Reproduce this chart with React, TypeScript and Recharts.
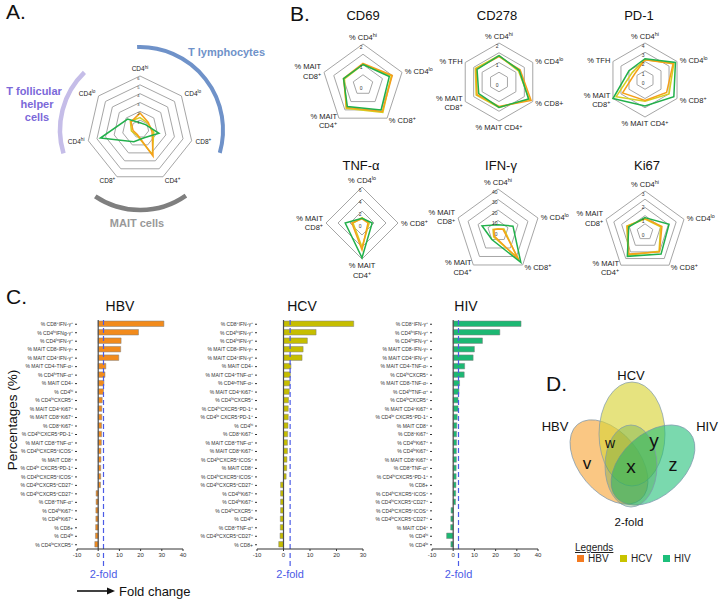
import React from 'react';
import {
  RadarChart,
  Radar,
  PolarGrid,
  PolarAngleAxis,
  PolarRadiusAxis,
  BarChart,
  Bar,
  XAxis,
  YAxis,
  ReferenceLine,
} from 'recharts';

const FONT = '"Liberation Sans", Arial, sans-serif';

const HBV_LINE = '#f5a01a';
const HCV_LINE = '#d6cf1f';
const HIV_LINE = '#22b04b';
const FOLD_BLUE = '#4b5be6';

// ---- panel A ----
const aAxes = ['CD4{hi}', 'CD4{lo}', 'CD8{+}', 'CD4{+}', 'CD8{+}', 'CD4{hi}', 'CD4{lo}'];
const aHBV = [1.8, 1.2, 1.4, 3.4, 0.7, 0.8, 1.3];
const aHCV = [1.3, 1.1, 1.6, 3.2, 0.8, 1.0, 1.4];
const aHIV = [0.7, 0.8, 2.2, 1.1, 1.6, 4.6, 1.8];

// ---- panel B ----
const cd69Axes = ['% CD4{hi}', '% CD4{lo}', '% CD8{+}', '% MAIT\nCD4{+}', '% MAIT\nCD8{+}'];
const cd69HBV = [1.05, 1.5, 1.6, 1.35, 1.0];
const cd69HCV = [1.0, 1.45, 1.65, 1.4, 0.95];
const cd69HIV = [1.0, 1.35, 1.5, 1.3, 1.0];

const cd278Axes = ['% CD4{hi}', '% CD4{lo}', '% CD8+', '% MAIT CD4{+}', '% MAIT\nCD8{+}', '% TFH'];
const cd278HBV = [1.3, 1.25, 1.9, 1.25, 1.3, 1.35];
const cd278HCV = [1.35, 1.15, 1.8, 1.3, 1.35, 1.4];
const cd278HIV = [1.35, 1.2, 1.75, 1.3, 1.2, 1.3];

const pd1Axes = ['% CD4{hi}', '% CD4{lo}', '% CD8{+}', '% MAIT CD4{+}', '% MAIT\nCD8{+}', '% TFH'];
const pd1HBV = [2.2, 3.5, 2.7, 2.2, 2.8, 1.3];
const pd1HCV = [2.2, 3.6, 3.0, 2.3, 3.6, 1.6];
const pd1HIV = [2.3, 3.8, 3.6, 2.8, 4.0, 2.0];

const tnfAxes = ['% CD4{lo}', '% CD8{+}', '% MAIT\nCD4{+}', '% MAIT\nCD8{+}'];
const tnfHBV = [0.7, 1.0, 4.5, 1.7];
const tnfHCV = [0.9, 1.2, 4.0, 1.5];
const tnfHIV = [0.8, 1.7, 5.8, 2.8];

const ifnAxes = ['% CD4{hi}', '% CD4{lo}', '% CD8{+}', '% MAIT\nCD4{+}', '% MAIT\nCD8{+}'];
const ifnHBV = [2, 5, 34, 6, 4];
const ifnHCV = [2, 6, 31, 7, 5];
const ifnHIV = [6, 15, 37, 10, 16];

const ki67Axes = ['% CD4{hi}', '% CD4{lo}', '% CD8{+}', '% MAIT\nCD4{+}', '% MAIT\nCD8{+}'];
const ki67HBV = [1.0, 1.3, 1.8, 2.0, 1.35];
const ki67HCV = [0.95, 1.2, 1.75, 2.1, 1.4];
const ki67HIV = [1.05, 1.85, 2.0, 2.2, 1.25];

// ---- panel C ----
const hbvNames = [
  '% CD8{+}IFN-γ{+}', '% CD4{hi}IFNg-γ{+}', '% CD4{lo}IFN-γ{+}', '% MAIT CD8{+}IFN-γ{+}',
  '% MAIT CD4{+}IFN-γ{+}', '% MAIT CD4{+}TNF-α{+}', '% CD4{hi}TNF-α{+}', '% MAIT CD4{+}',
  '% CD4{hi}', '% CD4{hi}CXCR5{+}', '% MAIT CD4{+}Ki67{+}', '% MAIT CD8{+}Ki67{+}',
  '% CD8{+}Ki67{+}', '% CD4{hi}CXCR5{+}PD-1{+}', '% MAIT CD8{+}TNF-α{+}', '% CD4{hi}CXCR5{+}ICOS{+}',
  '% MAIT CD8{+}', '% CD4{lo} CXCR5{+}PD-1{+}', '% CD4{lo}CXCR5{+}ICOS{+}', '% CD4{lo}CXCR5{+}CD27{+}',
  '% CD4{hi}CXCR5{+}CD27{+}', '% CD8{+}TNF-α{+}', '% CD4{hi}Ki67{+}', '% CD4{lo}Ki67{+}',
  '% CD8+', '% CD4{lo}', '% CD4{lo}CXCR5{+}',
];
const hbvValues = [31, 19, 10.8, 10.6, 9.7, 3.6, 3.2, 2.7, 2.5, 1.9, 1.7, 1.7, 1.6, 1.6, 1.5, 1.3, 1.3, 1.2, 1.2, 1.1, -1.0, -1.0, -1.1, -1.1, -1.2, -1.3, -1.6];

const hcvNames = [
  '% CD8{+}IFN-γ{+}', '% CD4{hi}IFN-γ{+}', '% CD4{lo}IFN-γ{+}', '% MAIT CD8{+}IFN-γ{+}',
  '% MAIT CD4{+}IFN-γ{+}', '% MAIT CD4{+}', '% MAIT CD4{+}TNF-α{+}', '% CD4{hi}TNF-α{+}',
  '% MAIT CD4{+}Ki67{+}', '% CD4{hi}CXCR5{+}', '% CD4{hi}CXCR5{+}PD-1{+}', '% CD4{lo} CXCR5{+}PD-1{+}',
  '% CD4{hi}', '% CD8{+}Ki67{+}', '% MAIT CD8{+}TNF-α{+}', '% MAIT CD8{+}Ki67{+}',
  '% CD4{lo}CXCR5{+}ICOS{+}', '% MAIT CD8{+}', '% CD4{hi}CXCR5{+}ICOS{+}', '% CD4{hi}CXCR5{+}CD27{+}',
  '% CD4{hi}Ki67{+}', '% CD4{lo}Ki67{+}', '% CD4{lo}CXCR5{+}', '% CD4{lo}',
  '% CD8{+}TNF-α{+}', '% CD4{lo}CXCR5{+}CD27{+}', '% CD8+',
];
const hcvValues = [26.5, 12.3, 9.0, 7.4, 7.0, 2.8, 2.6, 2.4, 2.2, 1.9, 1.8, 1.8, 1.7, 1.6, 1.5, 1.5, 1.3, 1.2, 1.0, -1.1, -1.1, -1.1, -1.1, -1.2, -1.2, -1.3, -1.8];

const hivNames = [
  '% CD8{+}IFN-γ{+}', '% CD4{hi}IFN-γ{+}', '% CD4{lo}IFN-γ{+}', '% MAIT CD8{+}IFN-γ{+}',
  '% MAIT CD4{+}IFN-γ{+}', '% MAIT CD4{+}TNF-α{+}', '% CD4{hi}CXCR5{+}', '% MAIT CD8{+}TNF-α{+}',
  '% CD4{hi}TNF-α{+}', '% CD4{lo}CXCR5{+}', '% MAIT CD4{+}Ki67{+}', '% CD4{lo} CXCR5{+}PD-1{+}',
  '% MAIT CD8{+}', '% CD8{+}Ki67{+}', '% CD4{hi}Ki67{+}', '% CD4{lo}Ki67{+}',
  '% MAIT CD8{+}Ki67{+}', '% CD8{+}TNF-α{+}', '% CD4{hi}CXCR5{+}PD-1{+}', '% CD8+',
  '% CD4{hi}CXCR5{+}ICOS{+}', '% CD4{hi}CXCR5{+}CD27{+}', '% CD4{lo}CXCR5{+}ICOS{+}', '% CD4{lo}CXCR5{+}CD27{+}',
  '% MAIT CD4{+}', '% CD4{hi}', '% CD4{lo}',
];
const hivValues = [32, 22, 13.8, 10, 9.4, 5.4, 5.2, 3.0, 2.7, 2.3, 2.3, 1.9, 1.7, 1.6, 1.6, 1.5, 1.5, 1.4, 1.4, 1.3, 1.2, 1.1, -1.0, -1.1, -1.2, -3.1, -1.1];

const FOLD_LINE = 2.5;

// ---- panel D ----
const vennSets = [
  { name: 'HBV', cx: 609, cy: 462, rx: 49, ry: 30, rot: 50, fill: '#f7a940', op: 0.65 },
  { name: 'HCV', cx: 632, cy: 434, rx: 33, ry: 52, rot: 0, fill: '#d8d43a', op: 0.65 },
  { name: 'HIV', cx: 653, cy: 465, rx: 49, ry: 31, rot: -42, fill: '#22c078', op: 0.6 },
  { name: '2-fold', cx: 631, cy: 466, rx: 26, ry: 41, rot: 0, fill: '#3f9a3a', op: 0.3 },
];
const vennLetters = [
  { t: 'v', x: 587, y: 469, s: 17 },
  { t: 'w', x: 610, y: 448, s: 14 },
  { t: 'x', x: 631, y: 473, s: 19 },
  { t: 'y', x: 654, y: 447, s: 19 },
  { t: 'z', x: 673, y: 471, s: 18 },
];
const legendItems = [
  { name: 'HBV', color: '#f47b20' },
  { name: 'HCV', color: '#c8c300' },
  { name: 'HIV', color: '#1dbf7b' },
];

// text with {...} pieces as superscripts
function rich(text: string, fs: number) {
  const parts = text.split(/(\{[^}]*\})/).filter((p) => p.length > 0);
  let up = false;
  return parts.map((p, i) => {
    const sup = p.startsWith('{');
    const s = sup ? p.slice(1, -1) : p;
    let dy: number | undefined;
    if (sup && !up) {
      dy = -fs * 0.38;
      up = true;
    } else if (!sup && up) {
      dy = fs * 0.38;
      up = false;
    }
    return (
      <tspan key={i} dy={dy} fontSize={sup ? fs * 0.72 : fs}>
        {s}
      </tspan>
    );
  });
}

interface SpiderProps {
  cx: number;
  cy: number;
  r: number;
  axes: string[];
  hbv: number[];
  hcv: number[];
  hiv: number[];
  max: number;
  tickCount: number;
  rings: number[];
  fs: number;
  gap: number;
  tickFs: number;
  skipZero?: boolean;
}

function Spider({ cx, cy, r, axes, hbv, hcv, hiv, max, tickCount, rings, fs, gap, tickFs, skipZero }: SpiderProps) {
  const w = 190;
  const h = 150;
  const ox = w / 2;
  const oy = h / 2;
  const data = axes.map((_, i) => ({ k: String(i), HBV: hbv[i], HCV: hcv[i], HIV: hiv[i] }));

  const angleTick = (p: any) => {
    const label = axes[Number(p.payload.value)];
    if (!label) return null;
    const lines = label.split('\n');
    const dx = p.x - ox;
    const dy = p.y - oy;
    const lh = fs * 1.25;
    let anchor: 'start' | 'middle' | 'end' = 'middle';
    let y0: number;
    if (Math.abs(dx) < r * 0.25) {
      y0 = dy < 0 ? p.y - (lines.length - 1) * lh - 1 : p.y + fs * 0.85;
    } else {
      anchor = dx > 0 ? 'start' : 'end';
      y0 = p.y - ((lines.length - 1) * lh) / 2 + fs * 0.35;
    }
    return (
      <g>
        {lines.map((l, i) => (
          <text key={i} x={p.x} y={y0 + i * lh} textAnchor={anchor} fontSize={fs} fill="#222" fontFamily={FONT}>
            {rich(l, fs)}
          </text>
        ))}
      </g>
    );
  };

  const radTick = (p: any) => {
    const v = p.payload.value;
    if (skipZero && v === 0) return null;
    return (
      <text x={p.x - 0.5} y={p.y + tickFs * 0.95} textAnchor="end" fontSize={tickFs} fill="#333" fontFamily={FONT}>
        {String(v)}
      </text>
    );
  };

  return (
    <div style={{ position: 'absolute', left: cx - ox, top: cy - oy }}>
      <RadarChart width={w} height={h} data={data} cx={ox} cy={oy} outerRadius={r} margin={{ top: 0, right: 0, bottom: 0, left: 0 }}>
        <PolarGrid gridType="polygon" radialLines={false} polarRadius={rings.map((v) => (r * v) / max)} stroke="#a6a6a6" strokeWidth={1} />
        <PolarAngleAxis dataKey="k" tick={angleTick} tickLine={false} axisLine={false} tickSize={gap} />
        <PolarRadiusAxis angle={90} domain={[0, max]} tickCount={tickCount} axisLine={false} tickLine={false} tick={radTick} />
        <Radar dataKey="HCV" stroke={HCV_LINE} strokeWidth={1.5} fill="none" fillOpacity={0} isAnimationActive={false} />
        <Radar dataKey="HBV" stroke={HBV_LINE} strokeWidth={1.5} fill="none" fillOpacity={0} isAnimationActive={false} />
        <Radar dataKey="HIV" stroke={HIV_LINE} strokeWidth={1.5} fill="none" fillOpacity={0} isAnimationActive={false} />
      </RadarChart>
    </div>
  );
}

const CatTick = (p: any) => (
  <text x={p.x} y={p.y + 1.8} textAnchor="end" fontSize={5} fill="#333" fontFamily={FONT}>
    {rich(String(p.payload.value), 5)}
  </text>
);

const foldLabel = (p: any) => {
  const vb = p.viewBox;
  if (!vb) return null;
  const x = vb.x;
  const yb = vb.y + vb.height;
  return (
    <g>
      <line x1={x} x2={x} y1={yb + 4} y2={yb + 18} stroke={FOLD_BLUE} strokeWidth={1.2} strokeDasharray="5 3" />
      <text x={x} y={yb + 29} textAnchor="middle" fontSize={11} fill={FOLD_BLUE} fontFamily={FONT}>
        2-fold
      </text>
    </g>
  );
};

interface FoldProps {
  left: number;
  names: string[];
  values: number[];
  color: string;
  domain: [number, number];
  ticks: number[];
}

function FoldBars({ left, names, values, color, domain, ticks }: FoldProps) {
  const data = names.map((n, i) => ({ name: n, v: values[i] }));
  return (
    <div style={{ position: 'absolute', left, top: 312 }}>
      <BarChart width={190} height={280} data={data} layout="vertical" margin={{ top: 8, right: 7, left: 0, bottom: 30 }}>
        <XAxis type="number" domain={domain} ticks={ticks} height={13} tick={{ fontSize: 6, fill: '#333' }} tickSize={2} stroke="#333" />
        <YAxis type="category" dataKey="name" width={77} tick={CatTick} tickSize={2} axisLine={false} interval={0} stroke="#333" />
        <ReferenceLine x={0} stroke="#4d4d4d" strokeWidth={1.2} />
        <Bar dataKey="v" barSize={5.5} fill={color} stroke="#7f7f7f" strokeWidth={0.5} isAnimationActive={false} />
        <ReferenceLine x={FOLD_LINE} stroke={FOLD_BLUE} strokeWidth={1.2} strokeDasharray="5 3" label={foldLabel} />
      </BarChart>
    </div>
  );
}

function arcPath(cx: number, cy: number, r: number, a0: number, a1: number) {
  const pt = (a: number) => [cx + r * Math.cos((a * Math.PI) / 180), cy + r * Math.sin((a * Math.PI) / 180)];
  const [x0, y0] = pt(a0);
  const [x1, y1] = pt(a1);
  const large = a1 - a0 > 180 ? 1 : 0;
  return `M ${x0} ${y0} A ${r} ${r} 0 ${large} 1 ${x1} ${y1}`;
}

export default function App() {
  return (
    <div style={{ position: 'absolute', left: 0, top: 0, width: 720, height: 600, background: '#fff', fontFamily: FONT, overflow: 'hidden' }}>
      {/* A */}
      <Spider cx={140} cy={129} r={53} axes={aAxes} hbv={aHBV} hcv={aHCV} hiv={aHIV} max={6} tickCount={7} rings={[1, 2, 3, 4, 5, 6]} fs={6.5} gap={4} tickFs={4} skipZero />

      {/* B */}
      <Spider cx={363} cy={85} r={41} axes={cd69Axes} hbv={cd69HBV} hcv={cd69HCV} hiv={cd69HIV} max={2} tickCount={5} rings={[0.5, 1, 1.5, 2]} fs={7.5} gap={3} tickFs={5} />
      <Spider cx={499} cy={82} r={39} axes={cd278Axes} hbv={cd278HBV} hcv={cd278HCV} hiv={cd278HIV} max={2} tickCount={5} rings={[0.5, 1, 1.5, 2]} fs={7.5} gap={3} tickFs={5} />
      <Spider cx={645} cy={80} r={37} axes={pd1Axes} hbv={pd1HBV} hcv={pd1HCV} hiv={pd1HIV} max={4} tickCount={5} rings={[1, 2, 3, 4]} fs={7.5} gap={3} tickFs={5} />
      <Spider cx={362} cy={223} r={36} axes={tnfAxes} hbv={tnfHBV} hcv={tnfHCV} hiv={tnfHIV} max={6} tickCount={4} rings={[2, 4, 6]} fs={7.5} gap={3} tickFs={5} />
      <Spider cx={498} cy={231} r={42} axes={ifnAxes} hbv={ifnHBV} hcv={ifnHCV} hiv={ifnHIV} max={40} tickCount={5} rings={[10, 20, 30, 40]} fs={7.5} gap={3} tickFs={5} />
      <Spider cx={645} cy={232} r={41} axes={ki67Axes} hbv={ki67HBV} hcv={ki67HCV} hiv={ki67HIV} max={2.5} tickCount={6} rings={[0.5, 1, 1.5, 2, 2.5]} fs={7.5} gap={3} tickFs={5} />

      {/* C */}
      <FoldBars left={0} names={hbvNames} values={hbvValues} color="#f28b1c" domain={[-10, 40]} ticks={[-10, 0, 10, 20, 30, 40]} />
      <FoldBars left={180} names={hcvNames} values={hcvValues} color="#c6be00" domain={[-10, 30]} ticks={[-10, 0, 10, 20, 30]} />
      <FoldBars left={355} names={hivNames} values={hivValues} color="#1db873" domain={[-10, 40]} ticks={[-10, 0, 10, 20, 30, 40]} />

      <svg width={720} height={600} style={{ position: 'absolute', left: 0, top: 0, pointerEvents: 'none' }} fontFamily={FONT}>
        {/* panel letters */}
        <text x={6} y={19} fontSize={21} fill="#111">A.</text>
        <text x={290} y={21} fontSize={21} fill="#111">B.</text>
        <text x={6} y={304} fontSize={21} fill="#111">C.</text>
        <text x={546} y={391} fontSize={21} fill="#111">D.</text>

        {/* A groupings */}
        <path d={arcPath(140, 130, 83, -92, 16)} stroke="#6f92c9" strokeWidth={4} fill="none" />
        <path d={arcPath(140, 130, 80, 163, 226)} stroke="#c5bde8" strokeWidth={4.5} fill="none" />
        <path d={arcPath(140, 130, 80, 55, 124)} stroke="#7f7f7f" strokeWidth={4.5} fill="none" />
        <text x={188} y={56} fontSize={11} fontWeight="bold" fill="#6f92c9">T lymphocytes</text>
        <text x={34} y={95} fontSize={11} fontWeight="bold" fill="#7b68d9" textAnchor="middle">T follicular</text>
        <text x={37} y={108} fontSize={11} fontWeight="bold" fill="#7b68d9" textAnchor="middle">helper</text>
        <text x={37} y={121} fontSize={11} fontWeight="bold" fill="#7b68d9" textAnchor="middle">cells</text>
        <text x={137} y={227} fontSize={11} fontWeight="bold" fill="#999" textAnchor="middle">MAIT cells</text>

        {/* B titles */}
        <text x={363} y={20} fontSize={13} textAnchor="middle" fill="#111">CD69</text>
        <text x={497} y={20} fontSize={13} textAnchor="middle" fill="#111">CD278</text>
        <text x={639} y={20} fontSize={13} textAnchor="middle" fill="#111">PD-1</text>
        <text x={361} y={170} fontSize={13} textAnchor="middle" fill="#111">TNF-α</text>
        <text x={501} y={170} fontSize={13} textAnchor="middle" fill="#111">IFN-γ</text>
        <text x={647} y={170} fontSize={13} textAnchor="middle" fill="#111">Ki67</text>

        {/* C titles and axis captions */}
        <text x={120} y={311} fontSize={14} textAnchor="middle" fill="#111">HBV</text>
        <text x={302} y={311} fontSize={14} textAnchor="middle" fill="#111">HCV</text>
        <text x={466} y={311} fontSize={14} textAnchor="middle" fill="#111">HIV</text>
        <text x={17} y={420} fontSize={13.5} textAnchor="middle" fill="#111" transform="rotate(-90 17 420)">Percentages (%)</text>
        <line x1={77} y1={591} x2={108} y2={591} stroke="#111" strokeWidth={1.6} />
        <polygon points="107,587.5 115,591 107,594.5" fill="#111" />
        <text x={119} y={596} fontSize={13} fill="#111">Fold change</text>

        {/* D venn */}
        {vennSets.map((s) => (
          <ellipse
            key={s.name}
            cx={s.cx}
            cy={s.cy}
            rx={s.rx}
            ry={s.ry}
            transform={`rotate(${s.rot} ${s.cx} ${s.cy})`}
            fill={s.fill}
            fillOpacity={s.op}
            stroke="#7d98ad"
            strokeWidth={0.7}
          />
        ))}
        {vennLetters.map((l) => (
          <text key={l.t} x={l.x} y={l.y} fontSize={l.s} textAnchor="middle" fill="#111">{l.t}</text>
        ))}
        <text x={631} y={380} fontSize={13} textAnchor="middle" fill="#111">HCV</text>
        <text x={555} y={431} fontSize={13} textAnchor="middle" fill="#111">HBV</text>
        <text x={707} y={431} fontSize={13} textAnchor="middle" fill="#111">HIV</text>
        <text x={629} y={526} fontSize={11.5} textAnchor="middle" fill="#111">2-fold</text>

        <text x={575} y={551} fontSize={10} fill="#222" textDecoration="underline">Legends</text>
        {legendItems.map((it, i) => (
          <g key={it.name}>
            <rect x={577 + i * 43} y={555} width={7} height={7} fill={it.color} />
            <text x={588 + i * 43} y={562} fontSize={10} fill="#222">{it.name}</text>
          </g>
        ))}
      </svg>
    </div>
  );
}
